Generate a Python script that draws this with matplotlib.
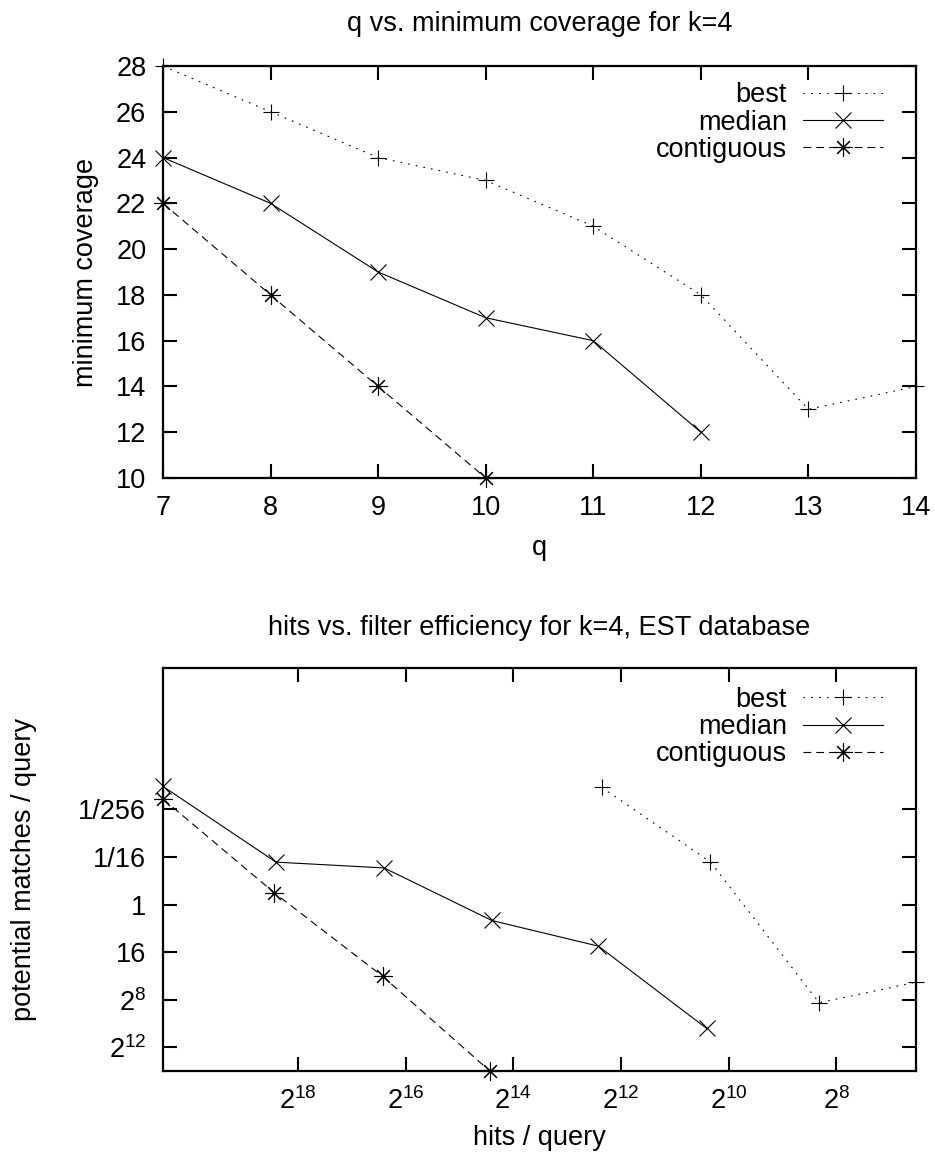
import numpy as np
import matplotlib
matplotlib.use("Agg")
import matplotlib.pyplot as plt

plt.rcParams['font.family'] = ['Liberation Sans', 'DejaVu Sans']
plt.rcParams['mathtext.fontset'] = 'custom'
plt.rcParams['mathtext.rm'] = 'Liberation Sans'
plt.rcParams['mathtext.it'] = 'Liberation Sans:italic'
plt.rcParams['mathtext.bf'] = 'Liberation Sans:bold'
FS = 19.5
plt.rcParams['font.size'] = FS

# --- top panel: q vs minimum coverage ---
q_best = [7, 8, 9, 10, 11, 12, 13, 14]
cov_best = [28, 26, 24, 23, 21, 18, 13, 14]
q_median = [7, 8, 9, 10, 11, 12]
cov_median = [24, 22, 19, 17, 16, 12]
q_contig = [7, 8, 9, 10]
cov_contig = [22, 18, 14, 10]

# --- bottom panel: hits vs filter efficiency (values as powers of two) ---
hits_best_exp = [12.36, 10.34, 8.32, 6.52]
pm_best_exp = [-9.86, -3.59, 8.26, 6.53]
hits_median_exp = [20.51, 18.41, 16.40, 14.40, 12.42, 10.41]
pm_median_exp = [-9.94, -3.57, -3.08, 1.34, 3.50, 10.42]
hits_contig_exp = [20.51, 18.44, 16.43, 14.44]
pm_contig_exp = [-8.88, -0.98, 6.03, 13.99]

x_tick_exp = [18, 16, 14, 12, 10, 8]
y_tick_exp = [-8, -4, 0, 4, 8, 12]
y_tick_labels = ['1/256', '1/16', '1', '16', r'$2^{8}$', r'$2^{12}$']

W, H = 935, 1153
fig = plt.figure(figsize=(W / 100, H / 100), dpi=100)

def px_axes(left, top, right, bottom):
    return fig.add_axes([left / W, 1 - bottom / H, (right - left) / W, (bottom - top) / H])

ax1 = px_axes(163, 66, 916, 478)
ax2 = px_axes(163, 668, 916, 1071)

lw = 0.8
styles = {
    'best': dict(linestyle=(0, (1.5, 5.5)), marker='+', markersize=12),
    'median': dict(linestyle='-', marker='x', markersize=11),
    'contiguous': dict(linestyle=(0, (7, 4.5)), marker=(8, 2, 0), markersize=13),
}

def draw(ax, x, y, name):
    ax.plot(x, y, color='black', linewidth=lw, markeredgewidth=0.8,
            clip_on=False, label=name, **styles[name])

draw(ax1, q_best, cov_best, 'best')
draw(ax1, q_median, cov_median, 'median')
draw(ax1, q_contig, cov_contig, 'contiguous')

draw(ax2, np.exp2(hits_best_exp), np.exp2(pm_best_exp), 'best')
draw(ax2, np.exp2(hits_median_exp), np.exp2(pm_median_exp), 'median')
draw(ax2, np.exp2(hits_contig_exp), np.exp2(pm_contig_exp), 'contiguous')

ax1.set_xlim(7, 14)
ax1.set_ylim(10, 28)
ax1.set_xticks(range(7, 15))
ax1.set_yticks(range(10, 29, 2))

ax2.set_xscale('log', base=2)
ax2.set_yscale('log', base=2)
ax2.set_xlim(np.exp2(20.51), np.exp2(6.52))
ax2.set_ylim(np.exp2(14.0), np.exp2(-19.9))
ax2.set_xticks(np.exp2(x_tick_exp))
ax2.set_xticklabels([r'$2^{%d}$' % e for e in x_tick_exp])
ax2.set_yticks(np.exp2(y_tick_exp))
ax2.set_yticklabels(y_tick_labels)
ax2.minorticks_off()

for ax, leg_top in ((ax1, 0.96), (ax2, 0.953)):
    for s in ax.spines.values():
        s.set_linewidth(1.6)
    ax.tick_params(direction='in', length=10, width=1.5, top=True, right=True,
                   labelsize=FS, pad=12)
    leg = ax.legend(loc='upper right', bbox_to_anchor=(0.956, leg_top),
                    frameon=False, markerfirst=False, handlelength=2.95,
                    handletextpad=0.6, labelspacing=0.04, borderpad=0,
                    borderaxespad=0, fontsize=FS)
    for t in leg.get_texts():
        t.set_ha('right')

ax1.set_xlabel('q')
ax1.set_ylabel('minimum coverage')
ax1.xaxis.set_label_coords(0.5, -0.17)
ax1.yaxis.set_label_coords(-0.102, 0.5)
ax1.text(0.5, 1.102, 'q vs. minimum coverage for k=4', transform=ax1.transAxes,
         ha='center', va='center', fontsize=FS)

ax2.set_xlabel('hits / query')
ax2.set_ylabel('potential matches / query')
ax2.xaxis.set_label_coords(0.5, -0.166)
ax2.yaxis.set_label_coords(-0.185, 0.5)
ax2.text(0.5, 1.099, 'hits vs. filter efficiency for k=4, EST database',
         transform=ax2.transAxes, ha='center', va='center', fontsize=FS)

for ax in (ax1, ax2):
    ax.xaxis.label.set_va('center')
    ax.yaxis.label.set_va('center')

plt.savefig('out.png', dpi=100)
